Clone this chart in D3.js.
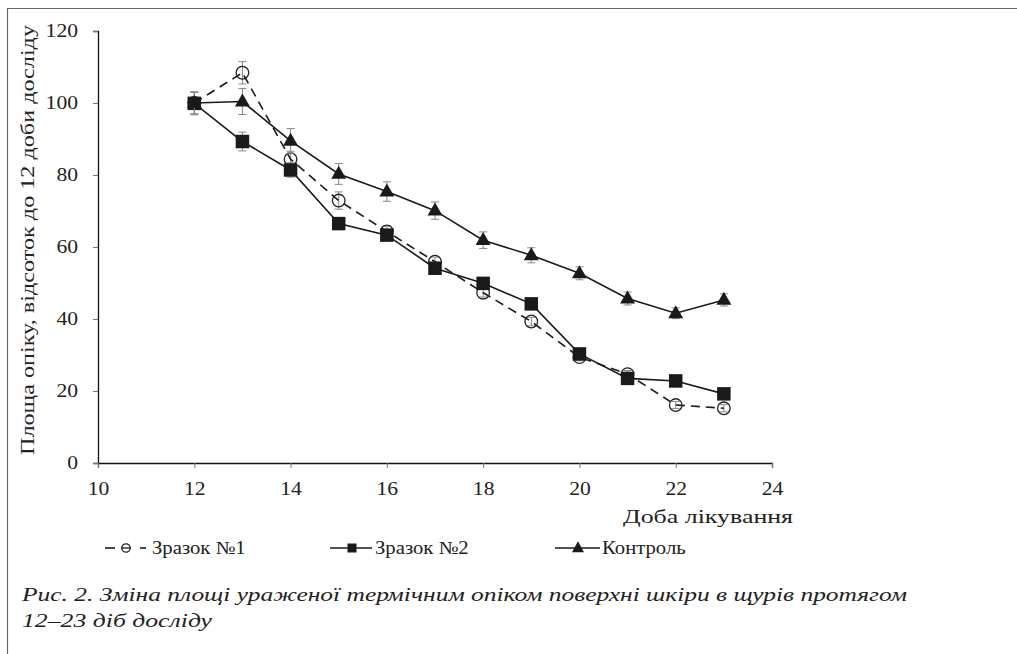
<!DOCTYPE html>
<html><head><meta charset="utf-8">
<script src="https://cdn.jsdelivr.net/npm/d3@7"></script>
<style>
html,body{margin:0;padding:0;background:#fff;}
svg{display:block;}
svg text{font-family:'Liberation Serif','Tinos','Times New Roman','DejaVu Serif',serif !important;fill:#222;}
</style></head>
<body>
<svg id="chart" width="1017" height="654"></svg>
<script>
const days = [12,13,14,15,16,17,18,19,20,21,22,23];
const sample1 = [100,108.4,84.4,72.9,64.3,55.9,47.3,39.3,29.4,24.7,16.1,15.2];
const sample1Err = [3.0,3.1,2.2,2.4,1.5,1.3,1.2,1.2,1.0,1.0,1.0,1.0];
const sample2 = [99.9,89.3,81.4,66.5,63.3,54.1,49.9,44.2,30.3,23.5,22.8,19.2];
const sample2Err = [3.2,2.6,2.0,1.5,1.4,1.3,1.2,1.2,1.1,1.0,1.0,1.0];
const control = [100,100.4,89.5,80.3,75.4,70.1,61.9,57.7,52.7,45.7,41.6,45.3];
const controlErr = [3.0,3.6,3.4,2.9,2.7,2.4,2.3,2.1,1.8,1.8,1.5,1.7];
const xTicks = [10,12,14,16,18,20,22,24];
const yTicks = [0,20,40,60,80,100,120];
const seriesNames = ["Зразок №1","Зразок №2","Контроль"];
const yTitle = "Площа опіку, відсоток до 12 доби досліду";
const xTitle = "Доба лікування";
const caption1 = "Рис. 2. Зміна площі ураженої термічним опіком поверхні шкіри в щурів протягом";
const caption2 = "12–23 діб досліду";

const FONT = "'Liberation Serif','Tinos','Times New Roman','DejaVu Serif',serif";
const svg = d3.select("#chart");
const x = d3.scaleLinear().domain([10,24]).range([98,772]);
const y = d3.scaleLinear().domain([0,120]).range([463,31]);

function stretch(sel, f){
  sel.each(function(){
    const len = this.getComputedTextLength();
    d3.select(this).attr("textLength", len*f).attr("lengthAdjust","spacingAndGlyphs");
  });
}

// frame
svg.append("line").attr("x1",7.5).attr("x2",7.5).attr("y1",8).attr("y2",654).attr("stroke","#666").attr("stroke-width",1.2);
svg.append("line").attr("x1",7).attr("x2",1017).attr("y1",8.5).attr("y2",8.5).attr("stroke","#666").attr("stroke-width",1.2);

// axes
const yAxis = svg.append("g").attr("transform","translate(98,0)")
  .call(d3.axisLeft(y).tickValues(yTicks).tickSize(5).tickPadding(15).tickFormat(d3.format("d")));
const xAxis = svg.append("g").attr("transform","translate(0,463)")
  .call(d3.axisBottom(x).tickValues(xTicks).tickSize(5).tickPadding(14).tickFormat(d3.format("d")));
[yAxis,xAxis].forEach(g=>{
  g.attr("font-family",FONT);
  g.select(".domain").attr("stroke","#111").attr("stroke-width",1.3);
  g.selectAll(".tick line").attr("stroke","#777");
  g.selectAll(".tick text").attr("font-size",18).attr("fill","#222").style("font-family",FONT);
  stretch(g.selectAll(".tick text"),1.2);
});

svg.append("text").attr("transform","translate(34,240) rotate(-90)")
  .attr("text-anchor","middle").attr("font-size",19).style("font-family",FONT)
  .attr("textLength",430).attr("lengthAdjust","spacingAndGlyphs").text(yTitle);
svg.append("text").attr("x",793).attr("y",523).attr("text-anchor","end").style("font-family",FONT)
  .attr("font-size",19).attr("textLength",170).attr("lengthAdjust","spacingAndGlyphs").text(xTitle);

const data = [
  {vals:sample1, err:sample1Err, dash:"9,6", marker:"circle"},
  {vals:sample2, err:sample2Err, dash:null, marker:"square"},
  {vals:control, err:controlErr, dash:null, marker:"triangle"}
];
const line = d3.line().x((d,i)=>x(days[i])).y(d=>y(d));

function drawMarker(g, type, cx, cy, big){
  if(type==="circle"){
    g.append("circle").attr("cx",cx).attr("cy",cy).attr("r",big?6.3:4.2)
     .attr("fill","none").attr("stroke","#222").attr("stroke-width",1.3);
  } else if(type==="square"){
    const s = big?13.5:9;
    g.append("rect").attr("x",cx-s/2).attr("y",cy-s/2).attr("width",s).attr("height",s).attr("fill","#1a1a1a");
  } else {
    const w = big?15:12, h = big?13:11;
    g.append("path").attr("d",`M${cx},${cy-h*0.62}L${cx+w/2},${cy+h*0.38}L${cx-w/2},${cy+h*0.38}Z`).attr("fill","#1a1a1a");
  }
}

data.forEach(s=>{
  const g = svg.append("g");
  s.vals.forEach((v,i)=>{
    const cx = x(days[i]);
    const y1 = y(v+s.err[i]), y2 = y(v-s.err[i]);
    g.append("line").attr("x1",cx).attr("x2",cx).attr("y1",y1).attr("y2",y2).attr("stroke","#888").attr("stroke-width",1);
    [y1,y2].forEach(yy=>g.append("line").attr("x1",cx-4).attr("x2",cx+4).attr("y1",yy).attr("y2",yy).attr("stroke","#888").attr("stroke-width",1));
  });
  g.append("path").datum(s.vals).attr("d",line).attr("fill","none").attr("stroke","#1a1a1a")
   .attr("stroke-width",1.6).attr("stroke-dasharray",s.dash);
  s.vals.forEach((v,i)=>drawMarker(g,s.marker,x(days[i]),y(v),true));
});

// legend
const legY = 548;
const legItems = [
  {x0:105, x1:145, mx:126, tx:152, marker:"circle", name:seriesNames[0]},
  {x0:330, x1:372, mx:352, tx:375, marker:"square", name:seriesNames[1]},
  {x0:555, x1:600, mx:578, tx:602, marker:"triangle", name:seriesNames[2]}
];
legItems.forEach(it=>{
  const g = svg.append("g");
  if(it.marker==="circle"){
    g.append("line").attr("x1",105).attr("x2",115).attr("y1",legY).attr("y2",legY).attr("stroke","#1a1a1a").attr("stroke-width",1.6);
    g.append("line").attr("x1",140).attr("x2",146).attr("y1",legY).attr("y2",legY).attr("stroke","#1a1a1a").attr("stroke-width",1.6);
    g.append("line").attr("x1",121).attr("x2",131).attr("y1",legY).attr("y2",legY).attr("stroke","#1a1a1a").attr("stroke-width",1.3);
  } else {
    g.append("line").attr("x1",it.x0).attr("x2",it.x1).attr("y1",legY).attr("y2",legY).attr("stroke","#1a1a1a").attr("stroke-width",1.6);
  }
  drawMarker(g,it.marker,it.mx,legY,false);
  const t = g.append("text").attr("x",it.tx).attr("y",legY+6).attr("font-size",18).style("font-family",FONT).text(it.name);
  stretch(t,1.15);
});

// caption
svg.append("text").attr("x",22).attr("y",601).attr("font-size",18).attr("font-style","italic").style("font-family",FONT)
  .attr("fill","#333").attr("textLength",885).attr("lengthAdjust","spacingAndGlyphs").text(caption1);
svg.append("text").attr("x",22).attr("y",627).attr("font-size",18).attr("font-style","italic").style("font-family",FONT)
  .attr("fill","#333").attr("textLength",190).attr("lengthAdjust","spacingAndGlyphs").text(caption2);
</script>
</body></html>
